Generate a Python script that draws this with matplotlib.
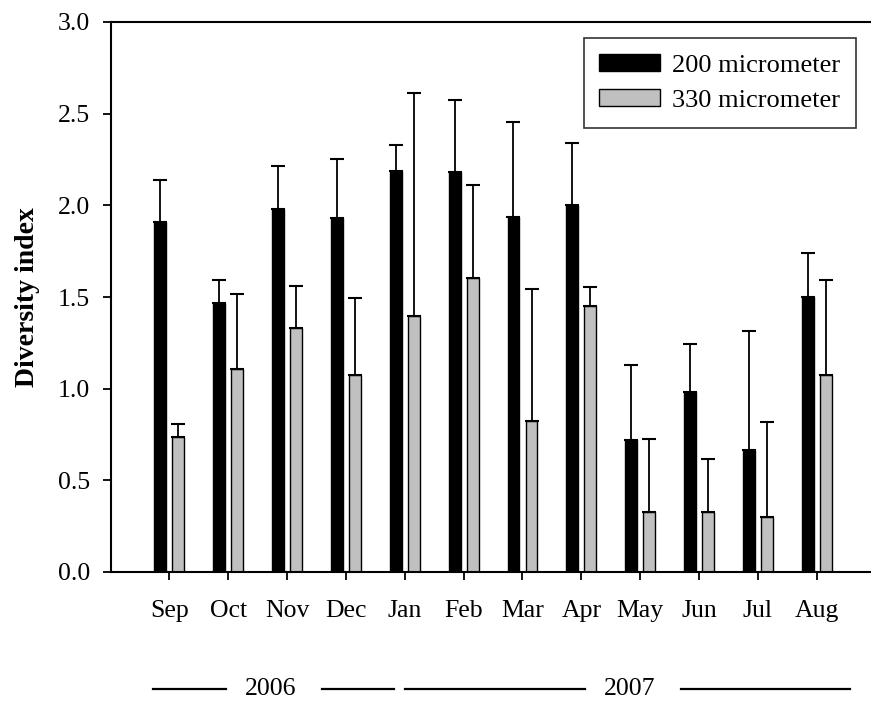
import numpy as np
import matplotlib.pyplot as plt
from matplotlib.transforms import blended_transform_factory

plt.rcParams['font.family'] = ['Liberation Serif', 'DejaVu Serif']

months = ['Sep', 'Oct', 'Nov', 'Dec', 'Jan', 'Feb', 'Mar', 'Apr', 'May', 'Jun', 'Jul', 'Aug']
mesh200 = [1.91, 1.47, 1.98, 1.93, 2.19, 2.18, 1.935, 2.00, 0.72, 0.98, 0.665, 1.50]
mesh200_err = [0.23, 0.125, 0.233, 0.321, 0.139, 0.397, 0.52, 0.34, 0.409, 0.262, 0.651, 0.239]
mesh330 = [0.735, 1.107, 1.331, 1.073, 1.398, 1.604, 0.826, 1.451, 0.326, 0.329, 0.30, 1.075]
mesh330_err = [0.071, 0.411, 0.228, 0.424, 1.217, 0.509, 0.718, 0.102, 0.398, 0.289, 0.518, 0.518]

# year brackets under the month labels: (label, centre, left line, right line)
years = [('2006', 1.72, (-0.28, 0.96), (2.59, 3.81)),
         ('2007', 7.82, (4.0, 7.07), (8.7, 11.57))]

x = np.arange(len(months))
w = 0.2
off = 0.153

fig = plt.figure(figsize=(8.71, 7.02), dpi=100)
ax = fig.add_axes([111 / 871, 1 - 572 / 702, 1 - 111 / 871, 550 / 702])

ekw = dict(elinewidth=1.3, capthick=1.5, ecolor='black')
zeros = np.zeros(len(months))
ax.bar(x - off, mesh200, w, color='black', edgecolor='black', linewidth=1,
       yerr=[zeros, mesh200_err], capsize=5, error_kw=ekw, label='200 micrometer')
ax.bar(x + off, mesh330, w, color='#c0c0c0', edgecolor='black', linewidth=1,
       yerr=[zeros, mesh330_err], capsize=5, error_kw=ekw, label='330 micrometer')

ax.set_xlim(-0.99, 11.92)
ax.set_ylim(0, 3.0)
ax.set_yticks(np.arange(0, 3.01, 0.5))
ax.set_yticklabels([f'{v:.1f}' for v in np.arange(0, 3.01, 0.5)])
ax.set_xticks(x)
ax.set_xticklabels(months)
ax.tick_params(axis='both', direction='out', length=6, width=1.3, labelsize=18.5)
ax.tick_params(axis='x', pad=14)
ax.tick_params(axis='y', pad=9)
for s in ['left', 'top', 'bottom']:
    ax.spines[s].set_linewidth(1.5)
ax.spines['right'].set_visible(False)

ax.set_ylabel('Diversity index', fontsize=20, fontweight='bold', labelpad=13)

leg = ax.legend(loc='upper right', bbox_to_anchor=(856 / 871, 1 - 38 / 702),
                bbox_transform=fig.transFigure, fontsize=19, frameon=True,
                fancybox=False, edgecolor='black', handlelength=2.3,
                handleheight=0.65, borderpad=0.6, labelspacing=0.45,
                handletextpad=0.45, borderaxespad=0)
leg.get_frame().set_linewidth(1.2)

trans = blended_transform_factory(ax.transData, fig.transFigure)
yy = 1 - 689 / 702
for label, cx, l1, l2 in years:
    ax.text(cx, yy, label, transform=trans, ha='center', va='center', fontsize=18.5, clip_on=False)
    for a, b in (l1, l2):
        ax.plot([a, b], [yy, yy], color='black', lw=1.6, transform=trans, clip_on=False)

fig.savefig('out.png', dpi=100)
